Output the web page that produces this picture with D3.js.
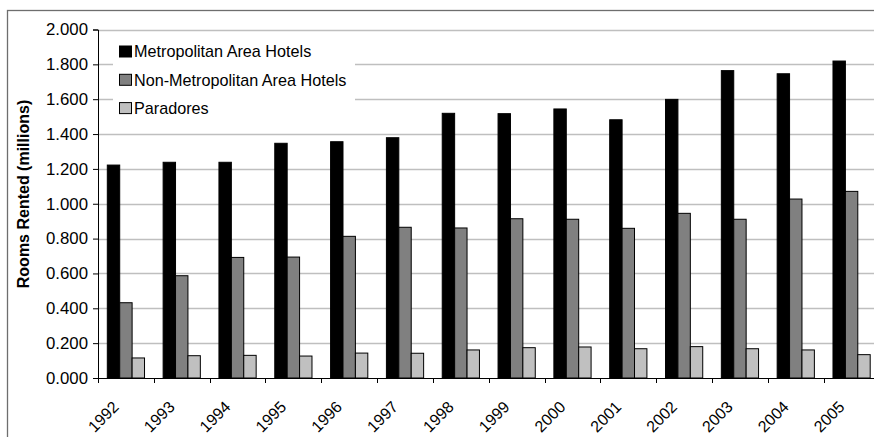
<!DOCTYPE html>
<html><head><meta charset="utf-8">
<script src="https://cdn.jsdelivr.net/npm/d3@7"></script>
<style>body{margin:0;background:#fff;}svg{display:block;font-family:"Liberation Sans",Arial,sans-serif;}</style>
</head><body>
<svg id="c" width="874" height="437"></svg>
<script>
const years = ["1992","1993","1994","1995","1996","1997","1998","1999","2000","2001","2002","2003","2004","2005"];
const seriesNames = ["Metropolitan Area Hotels","Non-Metropolitan Area Hotels","Paradores"];
const metro = [1.222,1.238,1.238,1.347,1.356,1.379,1.519,1.517,1.544,1.482,1.599,1.764,1.746,1.819];
const nonMetro = [0.432,0.587,0.692,0.694,0.813,0.865,0.861,0.914,0.911,0.859,0.945,0.911,1.027,1.071];
const paradores = [0.115,0.128,0.130,0.126,0.143,0.142,0.161,0.174,0.178,0.168,0.180,0.168,0.161,0.134];
const yTicks = [0,0.2,0.4,0.6,0.8,1.0,1.2,1.4,1.6,1.8,2.0];
const colors = ["#000000","#808080","#c0c0c0"];
const seriesValues = [metro, nonMetro, paradores];

const svg = d3.select("#c");
const L = 98, R = 879.5, T = 29.5, B = 378;
const FONT = "Liberation Sans, Arial, sans-serif";

// outer frame
svg.append("rect").attr("x",7.5).attr("y",10.5).attr("width",900).attr("height",500)
  .attr("fill","none").attr("stroke","#6e6e6e").attr("stroke-width",1.3);

const x = d3.scaleBand().domain(years).range([L,R]).paddingInner(0).paddingOuter(0);
const y = d3.scaleLinear().domain([0,2]).range([B,T]);
const bw = x.bandwidth()/4.5;
const xs = d3.scaleBand().domain(d3.range(3)).range([0.75*bw, 3.75*bw]);

// gridlines
svg.append("g").selectAll("line").data(yTicks.filter(d=>d>0)).join("line")
  .attr("x1",L).attr("x2",R).attr("y1",d=>Math.round(y(d))+0.5).attr("y2",d=>Math.round(y(d))+0.5)
  .attr("stroke","#bfbfbf").attr("stroke-width",1.3);

// bars
seriesValues.forEach((vals,si)=>{
  svg.append("g").selectAll("rect").data(vals).join("rect")
    .attr("x",(d,i)=>x(years[i])+xs(si))
    .attr("width",xs.bandwidth())
    .attr("y",d=>y(d))
    .attr("height",d=>B-y(d))
    .attr("fill",colors[si]).attr("stroke","#000").attr("stroke-width",1);
});

// y axis
const ya = d3.axisLeft(y).tickValues(yTicks).tickFormat(d3.format(".3f")).tickSize(5).tickPadding(5);
const gy = svg.append("g").attr("transform",`translate(${L},0)`).call(ya);
gy.attr("font-family",FONT).attr("font-size",16.8);
gy.select(".domain").attr("stroke","#000");
gy.selectAll(".tick line").attr("stroke","#000");
gy.selectAll("text").attr("fill","#000");

// x axis
const xa = d3.axisBottom(x).tickSize(0).tickFormat(d=>d);
const gx = svg.append("g").attr("transform",`translate(0,${B})`).call(xa);
gx.attr("font-family",FONT).attr("font-size",16);
gx.select(".domain").attr("stroke","#000");
gx.selectAll(".tick text").attr("fill","#000")
  .attr("text-anchor","end").attr("dy","0.35em")
  .attr("transform","translate(-10,26) rotate(-45)").attr("y",0).attr("x",0);
// boundary ticks
const bounds = years.map(d=>x(d)).concat([R]);
svg.append("g").selectAll("line").data(bounds).join("line")
  .attr("x1",d=>Math.round(d)+0.5).attr("x2",d=>Math.round(d)+0.5).attr("y1",B).attr("y2",B+5)
  .attr("stroke","#000");

// y title
svg.append("text").attr("transform",`translate(29,194) rotate(-90)`)
  .attr("text-anchor","middle").attr("font-weight","bold").attr("font-size",16)
  .text("Rooms Rented (millions)");

// legend
const lg = svg.append("g");
lg.append("rect").attr("x",113).attr("y",37).attr("width",242).attr("height",85).attr("fill","#fff");
seriesNames.forEach((n,i)=>{
  const cy = 51.5 + i*28.3;
  lg.append("rect").attr("x",119.5).attr("y",cy-5.5).attr("width",12).attr("height",11)
    .attr("fill",colors[i]).attr("stroke","#000");
  lg.append("text").attr("x",134).attr("y",cy).attr("dy","0.36em").attr("font-size",16.2).text(n);
});
</script>
</body></html>
